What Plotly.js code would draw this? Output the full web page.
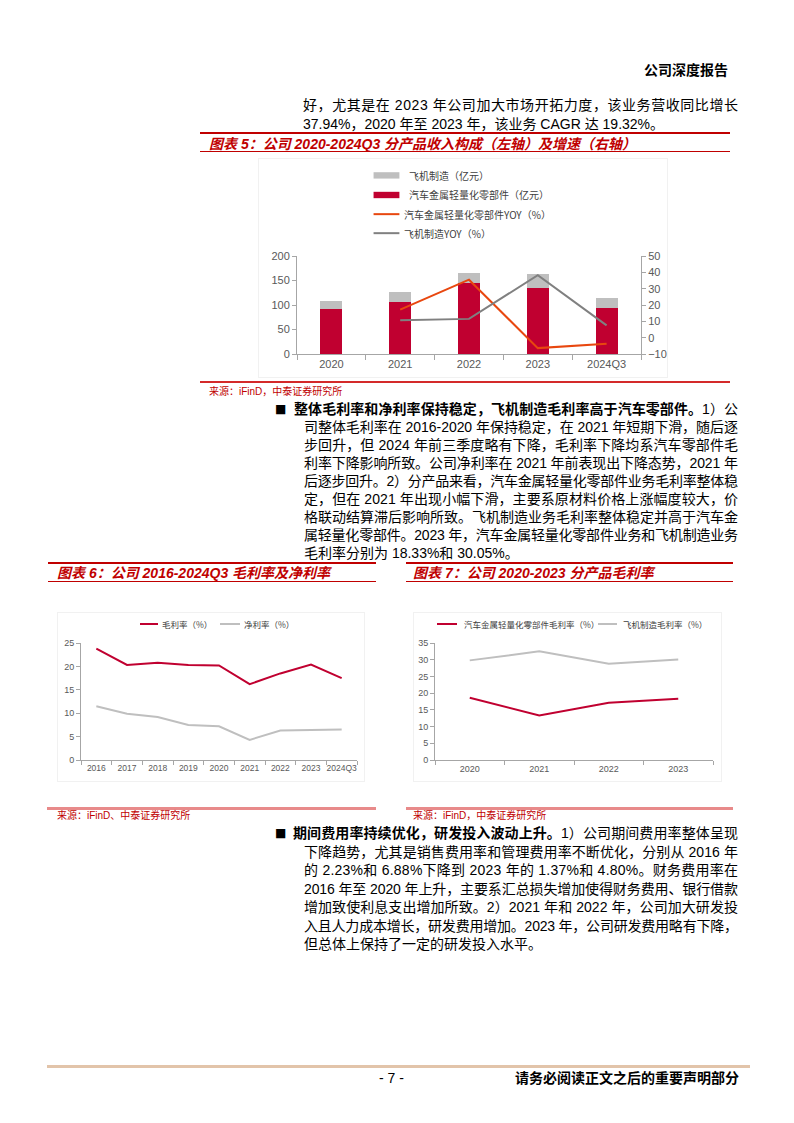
<!DOCTYPE html>
<html lang="zh-CN">
<head>
<meta charset="utf-8">
<script src="https://cdn.plot.ly/plotly-3.0.1.min.js"></script>
<style>
  body { margin: 0; background: #fff; }
  #page { position: relative; width: 794px; height: 1123px; overflow: hidden; background: #fff;
          font-family: "Liberation Sans", "Noto Sans CJK SC", sans-serif; color: #000; }
  .t { position: absolute; white-space: nowrap; font-size: 14px; line-height: 18px; height: 18px; }
  .cap { position: absolute; white-space: nowrap; font-size: 14px; line-height: 18px; font-weight: bold;
         font-style: italic; color: #C00000; }
  .src { position: absolute; white-space: nowrap; font-size: 10px; line-height: 12px; color: #C00000; }
  .rule { position: absolute; }
  .chart { position: absolute; box-sizing: border-box; border: 1px solid #f1f1f1; }
  .bul { position: absolute; font-family: "DejaVu Sans"; font-size: 12px; line-height: 18px; height: 18px; }
</style>
</head>
<body>
<div id="page">
  <!-- header -->
  <div class="t" style="left:644px; top:60.5px; font-weight:bold;">公司深度报告</div>

  <!-- paragraph 1 -->
  <div class="t fit" data-w="435" style="left:303px; top:96px;">好，尤其是在 2023 年公司加大市场开拓力度，该业务营收同比增长</div>
  <div class="t" style="left:303px; top:114.5px;">37.94%，2020 年至 2023 年，该业务 CAGR 达 19.32%。</div>

  <!-- caption 5 -->
  <div class="rule" style="left:200px; top:132px; width:530px; height:2px; background:#C00000;"></div>
  <div class="cap" style="left:209px; top:134.5px;">图表 5：公司 2020-2024Q3 分产品收入构成（左轴）及增速（右轴）</div>
  <div class="rule" style="left:200px; top:151px; width:530px; height:1px; background:#C00000;"></div>

  <div id="chart5" class="chart" style="left:258px; top:158px; width:410px; height:220px;"></div>

  <div class="rule" style="left:200px; top:381px; width:530px; height:2px; background:#D42A2A;"></div>
  <div class="src" style="left:209px; top:385.5px;">来源：iFinD，中泰证券研究所</div>

  <!-- paragraph 2 -->
  <div class="bul" style="left:275px; top:400px;">■</div>
  <div class="t fit" data-w="444" style="left:294px; top:400px;"><b>整体毛利率和净利率保持稳定，飞机制造毛利率高于汽车零部件。</b>1）公</div>
  <div class="t fit" data-w="434" style="left:304px; top:418px;">司整体毛利率在 2016-2020 年保持稳定，在 2021 年短期下滑，随后逐</div>
  <div class="t fit" data-w="434" style="left:304px; top:436px;">步回升，但 2024 年前三季度略有下降，毛利率下降均系汽车零部件毛</div>
  <div class="t fit" data-w="434" style="left:304px; top:454px;">利率下降影响所致。公司净利率在 2021 年前表现出下降态势，2021 年</div>
  <div class="t fit" data-w="434" style="left:304px; top:472px;">后逐步回升。2）分产品来看，汽车金属轻量化零部件业务毛利率整体稳</div>
  <div class="t fit" data-w="434" style="left:304px; top:490px;">定，但在 2021 年出现小幅下滑，主要系原材料价格上涨幅度较大，价</div>
  <div class="t fit" data-w="434" style="left:304px; top:508px;">格联动结算滞后影响所致。飞机制造业务毛利率整体稳定并高于汽车金</div>
  <div class="t fit" data-w="434" style="left:304px; top:526px;">属轻量化零部件。2023 年，汽车金属轻量化零部件业务和飞机制造业务</div>
  <div class="t" style="left:304px; top:544px;">毛利率分别为 18.33%和 30.05%。</div>

  <!-- captions 6 and 7 -->
  <div class="rule" style="left:48px; top:562px; width:328px; height:2px; background:#C00000;"></div>
  <div class="cap" style="left:57px; top:563.5px;">图表 6：公司 2016-2024Q3 毛利率及净利率</div>
  <div class="rule" style="left:48px; top:581px; width:328px; height:1px; background:#C00000;"></div>

  <div class="rule" style="left:406px; top:562px; width:327px; height:2px; background:#C00000;"></div>
  <div class="cap" style="left:413px; top:563.5px;">图表 7：公司 2020-2023 分产品毛利率</div>
  <div class="rule" style="left:406px; top:581px; width:327px; height:1px; background:#C00000;"></div>

  <div id="chart6" class="chart" style="left:57px; top:612px; width:308px; height:170px;"></div>
  <div id="chart7" class="chart" style="left:413px; top:612px; width:309px; height:170px;"></div>

  <div class="rule" style="left:47px; top:807px; width:329px; height:3px; background:#E88A8A;"></div>
  <div class="src" style="left:57px; top:810px;">来源：iFinD、中泰证券研究所</div>
  <div class="rule" style="left:406px; top:807px; width:327px; height:3px; background:#E88A8A;"></div>
  <div class="src" style="left:413px; top:810px;">来源：iFinD，中泰证券研究所</div>

  <!-- paragraph 3 -->
  <div class="bul" style="left:275px; top:824px;">■</div>
  <div class="t fit" data-w="445" style="left:293px; top:824px;"><b>期间费用率持续优化，研发投入波动上升。</b>1）公司期间费用率整体呈现</div>
  <div class="t fit" data-w="434" style="left:304px; top:842.5px;">下降趋势，尤其是销售费用率和管理费用率不断优化，分别从 2016 年</div>
  <div class="t fit" data-w="434" style="left:304px; top:861px;">的 2.23%和 6.88%下降到 2023 年的 1.37%和 4.80%。财务费用率在</div>
  <div class="t fit" data-w="434" style="left:304px; top:879.5px;">2016 年至 2020 年上升，主要系汇总损失增加使得财务费用、银行借款</div>
  <div class="t fit" data-w="434" style="left:304px; top:898px;">增加致使利息支出增加所致。2）2021 年和 2022 年，公司加大研发投</div>
  <div class="t fit" data-w="434" style="left:304px; top:916.5px;">入且人力成本增长，研发费用增加。2023 年，公司研发费用略有下降，</div>
  <div class="t" style="left:304px; top:935px;">但总体上保持了一定的研发投入水平。</div>

  <!-- footer -->
  <div class="rule" style="left:47px; top:1064.5px; width:703px; height:3px; background:#E2C4AA;"></div>
  <div class="t" style="left:379px; top:1069px;">- 7 -</div>
  <div class="t" style="left:515px; top:1069px; font-weight:bold;">请务必阅读正文之后的重要声明部分</div>
</div>

<script>
// ---------- Chart 5 data ----------
const years5 = ['2020', '2021', '2022', '2023', '2024Q3'];
const autoPartsRevenue = [91.3, 106.6, 144.9, 134.8, 94.6];     // 亿元
const aircraftRevenue = [16.5, 19.0, 19.5, 28.0, 20.0];          // 亿元
const autoPartsYoY = [null, 17.2, 35.5, -6.4, -3.8];             // %
const aircraftYoY = [null, 10.7, 11.5, 38.3, 7.5];               // %
const names5 = ['飞机制造（亿元）', '汽车金属轻量化零部件（亿元）', '汽车金属轻量化零部件YOY（%）', '飞机制造YOY（%）'];
const leftTicks5 = [0, 50, 100, 150, 200];
const rightTicks5 = [-10, 0, 10, 20, 30, 40, 50];

// ---------- Chart 6 data ----------
const years6 = ['2016', '2017', '2018', '2019', '2020', '2021', '2022', '2023', '2024Q3'];
const grossMargin = [23.8, 20.3, 20.8, 20.3, 20.2, 16.2, 18.5, 20.4, 17.5];
const netMargin = [11.5, 9.9, 9.2, 7.5, 7.2, 4.3, 6.3, 6.4, 6.5];
const names6 = ['毛利率（%）', '净利率（%）'];
const ticks6 = [0, 5, 10, 15, 20, 25];

// ---------- Chart 7 data ----------
const years7 = ['2020', '2021', '2022', '2023'];
const autoPartsGM = [18.6, 13.3, 17.1, 18.33];
const aircraftGM = [29.8, 32.5, 28.8, 30.05];
const names7 = ['汽车金属轻量化零部件毛利率（%）', '飞机制造毛利率（%）'];
const ticks7 = [0, 5, 10, 15, 20, 25, 30, 35];

// ---------- styles ----------
const CRIMSON = '#C00030', LIGHTGRAY = '#BFBFBF', ORANGE = '#E8470F', DARKGRAY = '#808080';
const AXIS = '#A6A6A6', TICKTXT = '#595959';
const LATIN = 'Liberation Sans, Arial, sans-serif';
const CJK = 'Noto Sans CJK SC, sans-serif';

function axisStyle(size) {
  return { showline: true, linecolor: AXIS, linewidth: 1, ticks: 'outside', ticklen: 4, tickcolor: AXIS,
           showgrid: false, zeroline: false, tickangle: 0,
           tickfont: { family: LATIN, size: size, color: TICKTXT } };
}
function catAxis(size, cats) {
  return Object.assign(axisStyle(size), { type: 'category', tickson: 'boundaries',
                                          range: [-0.5, cats.length - 0.5], autorange: false });
}
// convert page pixel coordinates into paper coordinates of a plot area
function mapper(left, top, width, height) {
  return { x: px => (px - left) / width, y: py => (top + height - py) / height };
}
function legendRect(m, x0, x1, y0, y1, color) {
  return { type: 'rect', xref: 'paper', yref: 'paper', x0: m.x(x0), x1: m.x(x1), y0: m.y(y1), y1: m.y(y0),
           fillcolor: color, line: { width: 0 } };
}
function legendLine(m, x0, x1, y, color, w) {
  return { type: 'line', xref: 'paper', yref: 'paper', x0: m.x(x0), x1: m.x(x1), y0: m.y(y), y1: m.y(y),
           line: { color: color, width: w } };
}
function legendText(m, x, y, text, size) {
  return { xref: 'paper', yref: 'paper', x: m.x(x), y: m.y(y), text: text, showarrow: false,
           xanchor: 'left', yanchor: 'middle', font: { family: CJK, size: size, color: '#404040' } };
}
const cfg = { staticPlot: true, displayModeBar: false };

// ---------- Chart 5 ----------
(function () {
  // div at (258,158) 410x220 ; plot area 296..642 x 255..355
  const M = { l: 38, r: 26, t: 97, b: 23 };
  const m = mapper(296, 255, 346, 100);
  const traces = [
    { type: 'bar', x: years5, y: autoPartsRevenue, name: names5[1], marker: { color: CRIMSON } },
    { type: 'bar', x: years5, y: aircraftRevenue, name: names5[0], marker: { color: LIGHTGRAY } },
    { type: 'scatter', mode: 'lines', x: years5, y: autoPartsYoY, yaxis: 'y2', name: names5[2],
      line: { color: ORANGE, width: 2 } },
    { type: 'scatter', mode: 'lines', x: years5, y: aircraftYoY, yaxis: 'y2', name: names5[3],
      line: { color: DARKGRAY, width: 2 } }
  ];
  const layout = {
    width: 408, height: 218, margin: M, showlegend: false, barmode: 'stack', bargap: 0.68,
    paper_bgcolor: '#fff', plot_bgcolor: '#fff',
    xaxis: Object.assign(catAxis(11, years5), { ticklen: 5 }),
    yaxis: Object.assign(axisStyle(11), { range: [0, 200], tickvals: leftTicks5 }),
    yaxis2: Object.assign(axisStyle(11), { range: [-10, 50], tickvals: rightTicks5, overlaying: 'y', side: 'right' }),
    shapes: [
      legendRect(m, 373, 399, 169.5, 176, LIGHTGRAY),
      legendRect(m, 373, 399, 189.5, 196, CRIMSON),
      legendLine(m, 373, 399, 212.3, ORANGE, 2),
      legendLine(m, 373, 399, 231.7, DARKGRAY, 2)
    ],
    annotations: [
      legendText(m, 407, 172.7, names5[0], 10),
      legendText(m, 407, 192.7, names5[1], 10),
      legendText(m, 402, 212.3, names5[2], 10),
      legendText(m, 402, 231.7, names5[3], 10)
    ]
  };
  Plotly.newPlot('chart5', traces, layout, cfg);
})();

// ---------- Chart 6 ----------
(function () {
  // div at (57,612) ; plot area 81..357 x 643..760
  const m = mapper(81, 643, 276, 117);
  const traces = [
    { type: 'scatter', mode: 'lines', x: years6, y: grossMargin, name: names6[0], line: { color: CRIMSON, width: 2 } },
    { type: 'scatter', mode: 'lines', x: years6, y: netMargin, name: names6[1], line: { color: LIGHTGRAY, width: 2 } }
  ];
  const layout = {
    width: 306, height: 168, margin: { l: 23, r: 7, t: 30, b: 21 }, showlegend: false,
    paper_bgcolor: '#fff', plot_bgcolor: '#fff',
    xaxis: catAxis(8.5, years6),
    yaxis: Object.assign(axisStyle(9), { range: [0, 25], tickvals: ticks6 }),
    shapes: [legendLine(m, 140, 158, 624, CRIMSON, 2), legendLine(m, 220, 240, 624, LIGHTGRAY, 2)],
    annotations: [legendText(m, 160, 624, names6[0], 8.5), legendText(m, 242, 624, names6[1], 8.5)]
  };
  Plotly.newPlot('chart6', traces, layout, cfg);
})();

// ---------- Chart 7 ----------
(function () {
  // div at (413,612) ; plot area 435..713 x 643..760
  const m = mapper(435, 643, 278, 117);
  const traces = [
    { type: 'scatter', mode: 'lines', x: years7, y: autoPartsGM, name: names7[0], line: { color: CRIMSON, width: 2 } },
    { type: 'scatter', mode: 'lines', x: years7, y: aircraftGM, name: names7[1], line: { color: LIGHTGRAY, width: 2 } }
  ];
  const layout = {
    width: 307, height: 168, margin: { l: 21, r: 8, t: 30, b: 21 }, showlegend: false,
    paper_bgcolor: '#fff', plot_bgcolor: '#fff',
    xaxis: catAxis(9, years7),
    yaxis: Object.assign(axisStyle(9), { range: [0, 35], tickvals: ticks7 }),
    shapes: [legendLine(m, 437, 457, 624, CRIMSON, 2), legendLine(m, 598, 617, 624, LIGHTGRAY, 2)],
    annotations: [legendText(m, 462, 624, names7[0], 8.5), legendText(m, 621, 624, names7[1], 8.5)]
  };
  Plotly.newPlot('chart7', traces, layout, cfg);
})();

// ---------- justify single text lines to their measured widths ----------
function fitLines() {
  document.querySelectorAll('.fit').forEach(function (el) {
    el.style.letterSpacing = '0px';
    const w0 = el.getBoundingClientRect().width;
    const n = Array.from(el.textContent).length;
    const target = parseFloat(el.dataset.w);
    el.style.letterSpacing = ((target - w0) / (n - 1)) + 'px';
  });
}
fitLines();
if (document.fonts && document.fonts.ready) document.fonts.ready.then(fitLines);
</script>
</body>
</html>
